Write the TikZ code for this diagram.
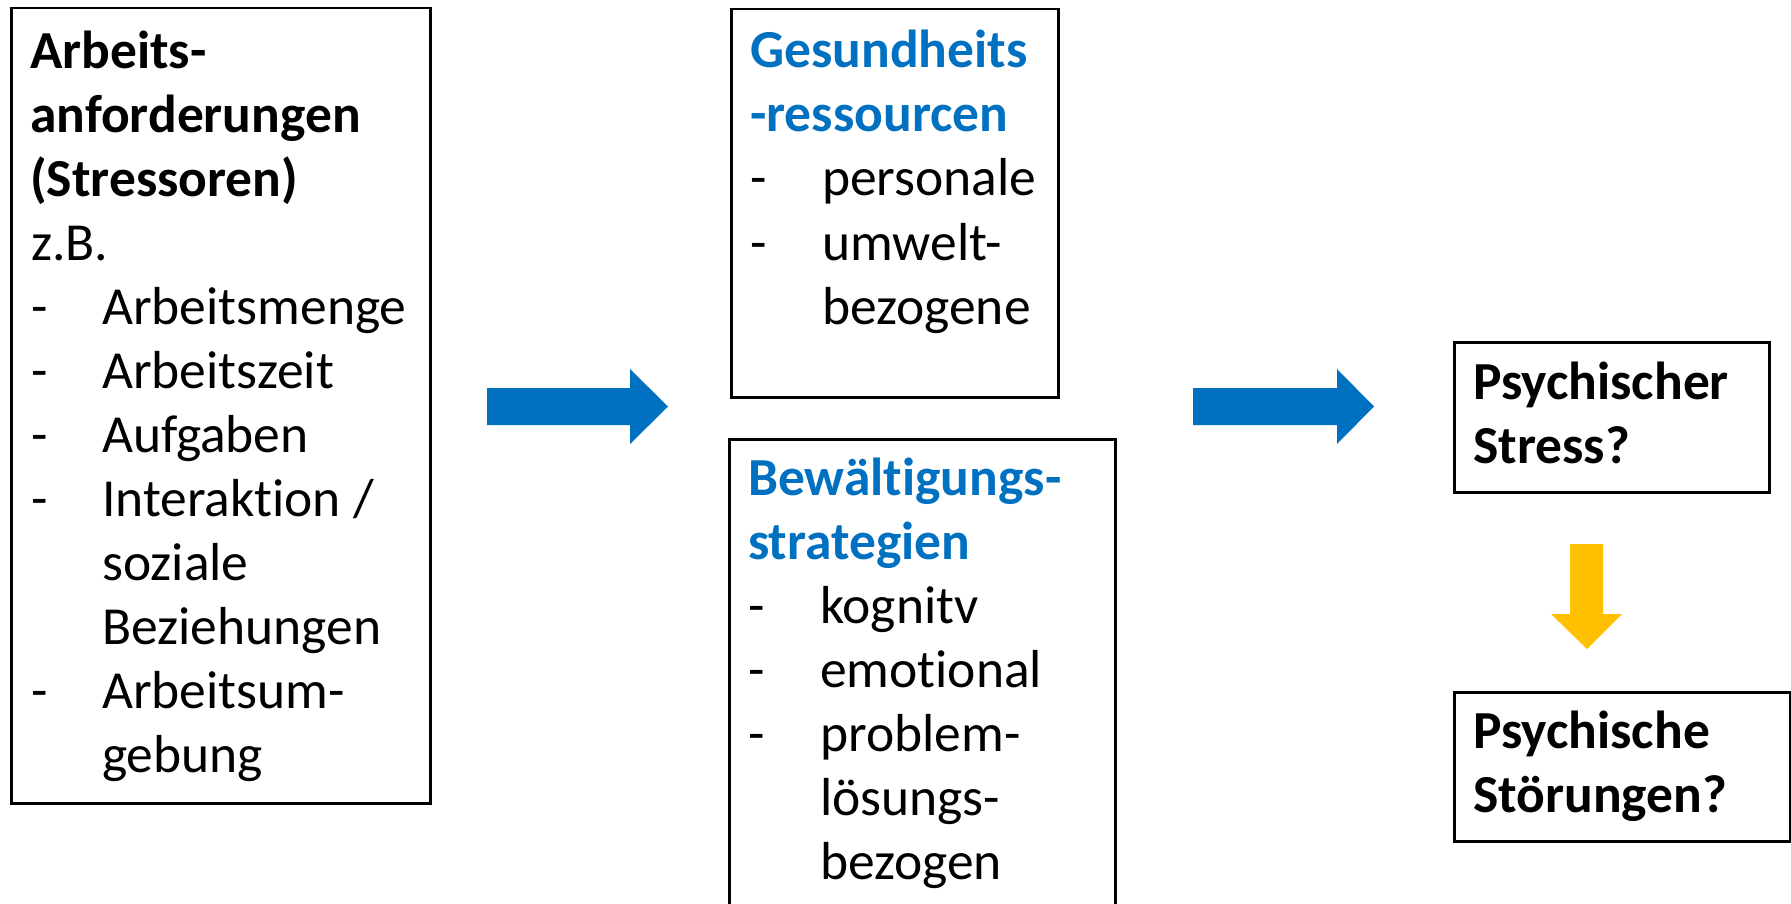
\documentclass[tikz,border=0pt]{standalone}
\usepackage{fontspec}
\setmainfont{Carlito}[Ligatures=NoCommon]
\definecolor{ppblue}{HTML}{0070C0}
\definecolor{ppyellow}{HTML}{FFC000}
\tikzset{
  box/.style={draw=black, line width=2.5pt, inner sep=0pt, anchor=north west},
  txt/.style={anchor=base west, inner sep=0pt, font=\fontsize{53.5}{64}\selectfont},
  hd/.style={txt, font=\fontsize{53.5}{64}\selectfont\bfseries},
  bhd/.style={hd, text=ppblue},
  bluearrow/.style={fill=ppblue},
  yellowarrow/.style={fill=ppyellow},
}
\begin{document}
\begin{tikzpicture}[x=1pt,y=-1pt]
\useasboundingbox (0,0) rectangle (1791,904);
% boxes
\node[box, minimum width=419pt, minimum height=795pt] (b1) at (10,7) {};
\node[box, minimum width=327pt, minimum height=388pt] (b2) at (730,8) {};
\node[box, minimum width=386pt, minimum height=490pt] (b3) at (728,438) {};
\node[box, minimum width=315pt, minimum height=150pt] (b4) at (1453,341) {};
\node[box, minimum width=336pt, minimum height=149pt] (b5) at (1453,691) {};
% block arrows
\fill[bluearrow] (487,388) -- (630,388) -- (630,369) -- (668,406.5) -- (630,444) -- (630,425) -- (487,425) -- cycle;
\fill[bluearrow] (1193,388) -- (1337,388) -- (1337,369) -- (1374,406.5) -- (1337,444) -- (1337,425) -- (1193,425) -- cycle;
\fill[yellowarrow] (1570,544) -- (1603,544) -- (1603,614) -- (1622,614) -- (1587,649) -- (1551,614) -- (1570,614) -- cycle;
% box 1 text
\node[hd] (t1a) at (30,68.5) {Arbeits-};
\node[hd] (t1b) at (30,132.5) {anforderungen};
\node[hd] (t1c) at (30,196.5) {(Stressoren)};
\node[txt] (t1d) at (31,260.5) {z.B.};
\node[txt] (d1e) at (31,324.5) {-};
\node[txt] (t1e) at (102,324.5) {Arbeitsmenge};
\node[txt] (d1f) at (31,388.5) {-};
\node[txt] (t1f) at (102,388.5) {Arbeitszeit};
\node[txt] (d1g) at (31,452.5) {-};
\node[txt] (t1g) at (102,452.5) {Aufgaben};
\node[txt] (d1h) at (31,516.5) {-};
\node[txt] (t1h) at (102,516.5) {Interaktion /};
\node[txt] (t1i) at (102,580.5) {soziale};
\node[txt] (t1j) at (102,644.5) {Beziehungen};
\node[txt] (d1k) at (31,708.5) {-};
\node[txt] (t1k) at (102,708.5) {Arbeitsum-};
\node[txt] (t1l) at (102,772.5) {gebung};
% box 2 text
\node[bhd] (t2a) at (750,68) {Gesundheits};
\node[bhd] (t2b) at (750,132) {-ressourcen};
\node[txt] (d2c) at (750,196) {-};
\node[txt] (t2c) at (822,196) {personale};
\node[txt] (d2d) at (750,260) {-};
\node[txt] (t2d) at (822,260) {umwelt-};
\node[txt] (t2e) at (822,324) {bezogene};
% box 3 text
\node[bhd] (t3a) at (748,495) {Bewältigungs-};
\node[bhd] (t3b) at (748,559) {strategien};
\node[txt] (d3c) at (748,623) {-};
\node[txt] (t3c) at (820,623) {kognitv};
\node[txt] (d3d) at (748,687) {-};
\node[txt] (t3d) at (820,687) {emotional};
\node[txt] (d3e) at (748,751) {-};
\node[txt] (t3e) at (820,751) {problem-};
\node[txt] (t3f) at (820,815) {lösungs-};
\node[txt] (t3g) at (820,879) {bezogen};
% box 4 / 5 text
\node[hd] (t4a) at (1473,399) {Psychischer};
\node[hd] (t4b) at (1473,463) {Stress?};
\node[hd] (t5a) at (1473,748) {Psychische};
\node[hd] (t5b) at (1473,812) {Störungen?};
\end{tikzpicture}
\end{document}
